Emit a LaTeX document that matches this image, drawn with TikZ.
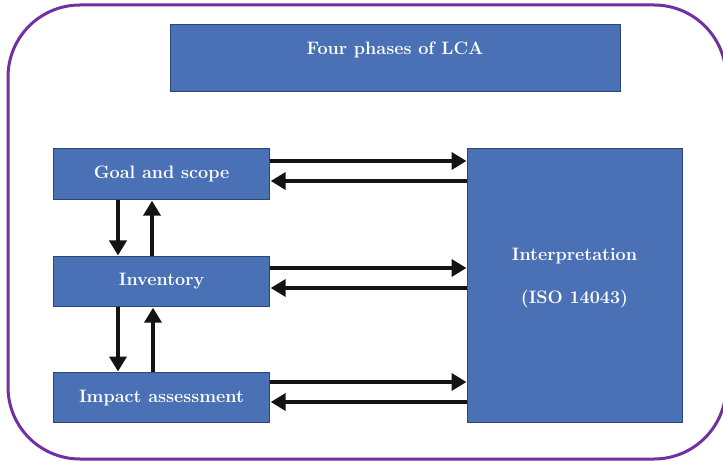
\documentclass[tikz,border=0pt]{standalone}
\usetikzlibrary{arrows.meta}
\definecolor{boxblue}{HTML}{4A71B5}
\definecolor{boxedge}{HTML}{2C4677}
\definecolor{framepurple}{HTML}{7330A2}
\definecolor{arrowblack}{HTML}{141414}
\begin{document}
\begin{tikzpicture}[x=1pt,y=-1pt,
  labeltext/.style={text=white, font=\bfseries\fontsize{18}{21}\selectfont},
  phasebox/.style={draw=boxedge, line width=1.2pt, fill=boxblue, inner sep=0pt, labeltext},
  flow/.style={draw=arrowblack, line width=4.5pt,
    -{Triangle[length=15pt,width=17pt]}, shorten >=0.5pt}]
  \useasboundingbox (0,0) rectangle (723,462);
  \fill[white] (0,0) rectangle (723,462);
  % outer frame
  \draw[framepurple, line width=3pt, rounded corners=72pt] (8,5) rectangle (726,459);

  % title
  \node[phasebox, minimum width=450pt, minimum height=67pt, anchor=north west] (title) at (170,24) {};
  \node[labeltext] (titletext) at (395,50) {Four phases of LCA};

  % phases
  \node[phasebox, minimum width=216pt, minimum height=51pt, anchor=north west] (goal) at (53,148) {Goal and scope};
  \node[phasebox, minimum width=216pt, minimum height=50pt, anchor=north west] (inv) at (53,256) {Inventory};
  \node[phasebox, minimum width=216pt, minimum height=50pt, anchor=north west] (imp) at (53,372) {Impact assessment};
  \node[phasebox, minimum width=215pt, minimum height=274pt, anchor=north west] (interp) at (467,148) {};
  \node[labeltext] (interpA) at (574.5,256) {Interpretation};
  \node[labeltext] (interpB) at (574.5,299) {(ISO 14043)};

  % links to interpretation
  \draw[flow] (goal.east |- 0,161) -- (interp.west |- 0,161);
  \draw[flow] (interp.west |- 0,181) -- (goal.east |- 0,181);
  \draw[flow] (inv.east |- 0,268) -- (interp.west |- 0,268);
  \draw[flow] (interp.west |- 0,288) -- (inv.east |- 0,288);
  \draw[flow] (imp.east |- 0,382) -- (interp.west |- 0,382);
  \draw[flow] (interp.west |- 0,402) -- (imp.east |- 0,402);

  % links between phases
  \draw[flow] (goal.south -| 118,0) -- (inv.north -| 118,0);
  \draw[flow] (inv.north -| 152,0) -- (goal.south -| 152,0);
  \draw[flow] (inv.south -| 118,0) -- (imp.north -| 118,0);
  \draw[flow] (imp.north -| 153,0) -- (inv.south -| 153,0);
\end{tikzpicture}
\end{document}
